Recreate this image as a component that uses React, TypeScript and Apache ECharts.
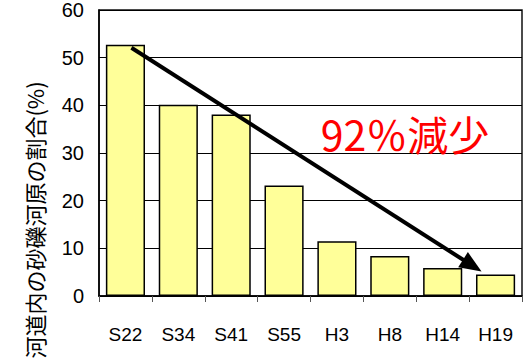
import React, { useEffect, useRef } from "react";
import * as echarts from "echarts";

// Survey years (Showa / Heisei) and share of gravel bars in the channel (%)
const categories = ["S22", "S34", "S41", "S55", "H3", "H8", "H14", "H19"];
const gravelShare = [52.7, 40.1, 38.1, 23.2, 11.5, 8.4, 5.9, 4.5];
const yTicks = { min: 0, max: 60, interval: 10 };
const yAxisTitle = "河道内の砂礫河原の割合(%)";
const decreaseNote = "92％減少";

export default function App() {
  const ref = useRef<HTMLDivElement>(null);

  useEffect(() => {
    if (!ref.current) return;
    const chart = echarts.init(ref.current, null, { renderer: "svg" });
    const last = gravelShare.length - 1;
    chart.setOption({
      animation: false,
      backgroundColor: "#ffffff",
      grid: {
        left: 99,
        right: 6,
        top: 9,
        bottom: 68,
        show: true,
        borderColor: "#111",
        borderWidth: 1.5,
        backgroundColor: "transparent",
      },
      xAxis: {
        type: "category",
        data: categories,
        boundaryGap: true,
        axisLine: { show: true, lineStyle: { color: "#000", width: 1.5 } },
        axisTick: {
          show: true,
          alignWithLabel: false,
          inside: false,
          length: 6,
          lineStyle: { color: "#555", width: 1 },
        },
        axisLabel: {
          color: "#000",
          fontFamily: "Liberation Sans, Arial, sans-serif",
          fontSize: 19,
          margin: 29,
        },
      },
      yAxis: {
        type: "value",
        min: yTicks.min,
        max: yTicks.max,
        interval: yTicks.interval,
        axisLine: { show: true, lineStyle: { color: "#000", width: 1.5 } },
        axisTick: { show: false },
        splitLine: { show: true, lineStyle: { color: "#000", width: 1 } },
        axisLabel: {
          color: "#000",
          fontFamily: "Liberation Sans, Arial, sans-serif",
          fontSize: 20,
          margin: 15,
        },
      },
      series: [
        {
          type: "bar",
          data: gravelShare,
          barCategoryGap: "26%",
          itemStyle: {
            color: "#FFFF99",
            borderColor: "#000",
            borderWidth: 1.5,
          },
        },
      ],
    });

    // Trend arrow from the first survey's bar top to the latest one
    const p0 = chart.convertToPixel({ seriesIndex: 0 }, [0, gravelShare[0]]) as number[];
    const p1 = chart.convertToPixel({ seriesIndex: 0 }, [last, gravelShare[last]]) as number[];
    const start = [p0[0] + 6, p0[1] + 3];
    const tip = [p1[0] - 14, p1[1] - 3];
    const dx = tip[0] - start[0];
    const dy = tip[1] - start[1];
    const len = Math.hypot(dx, dy);
    const ux = dx / len;
    const uy = dy / len;
    const headLen = 22;
    const headHalf = 9;
    const base = [tip[0] - ux * headLen, tip[1] - uy * headLen];
    const head = [
      tip,
      [base[0] - uy * headHalf, base[1] + ux * headHalf],
      [base[0] + uy * headHalf, base[1] - ux * headHalf],
    ];

    chart.setOption({
      graphic: [
        {
          type: "line",
          z: 100,
          shape: { x1: start[0], y1: start[1], x2: base[0] + ux * 2, y2: base[1] + uy * 2 },
          style: { stroke: "#000", lineWidth: 4 },
          silent: true,
        },
        {
          type: "polygon",
          z: 100,
          shape: { points: head },
          style: { fill: "#000" },
          silent: true,
        },
        {
          type: "text",
          x: 34,
          y: 220,
          rotation: Math.PI / 2,
          style: {
            text: yAxisTitle,
            fill: "#000",
            font: '22px "Noto Sans CJK JP", sans-serif',
            align: "center",
            verticalAlign: "middle",
          },
        },
        {
          type: "text",
          z: 100,
          x: 405,
          y: 133,
          style: {
            text: decreaseNote,
            fill: "#ff0000",
            font: '41px "Noto Sans CJK JP", sans-serif',
            align: "center",
            verticalAlign: "middle",
          },
        },
      ],
    });
    return () => chart.dispose();
  }, []);

  return (
    <div
      ref={ref}
      style={{ position: "fixed", left: 0, top: 0, width: 528, height: 364 }}
    />
  );
}
